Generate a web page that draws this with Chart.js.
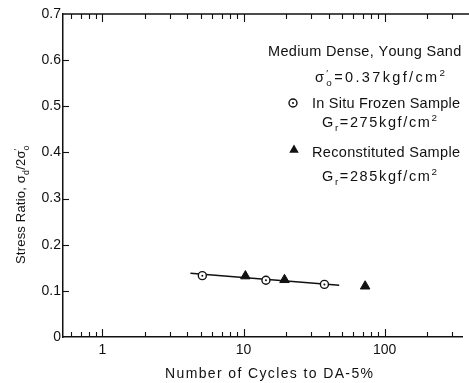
<!DOCTYPE html>
<html>
<head>
<meta charset="utf-8">
<script src="https://cdn.jsdelivr.net/npm/chart.js@4.4.0/dist/chart.umd.min.js"></script>
<style>
    html, body { margin: 0; padding: 0; background: #fff; }
    #wrap { width: 469px; height: 383px; }
</style>
</head>
<body>
<div id="wrap"><canvas id="chart" width="469" height="383"></canvas></div>
<script>
// --- Data ---
const frozenCycles = [5.1, 14.4, 37.4];
const frozenRatio = [0.133, 0.123, 0.114];
const reconCycles = [10.3, 19.5, 72.7];
const reconRatio = [0.132, 0.124, 0.110];
const fitCycles = [4.2, 47.6];
const fitRatio = [0.138, 0.112];

const yTickValues = [0, 0.1, 0.2, 0.3, 0.4, 0.5, 0.6, 0.7];
const xTickLabels = [1, 10, 100];
const xTickMarks = [0.6, 0.7, 0.8, 0.9, 1, 2, 3, 4, 5, 6, 7, 8, 9, 10,
    20, 30, 40, 50, 60, 70, 80, 90, 100, 200, 300];

const FONT = '"Liberation Sans", Arial, Helvetica, sans-serif';
const INK = '#111';

function drawSpaced(ctx, text, x, y, sp, dry) {
    let cx = x;
    for (const ch of text) {
        if (!dry) ctx.fillText(ch, cx, y);
        cx += ctx.measureText(ch).width + sp;
    }
    return cx - x - sp;
}

// fit text to a given width by spreading the letters
function fitText(ctx, text, x, y, width, size) {
    ctx.font = size + 'px ' + FONT;
    const w = ctx.measureText(text).width;
    const sp = (width - w) / ([...text].length - 1);
    drawSpaced(ctx, text, x, y, sp);
}

// parts: [text, kind] kind: '' | 'sub' | 'sup' | 'supKeep' (no advance)
function drawRuns(ctx, parts, x, y, size, sp, dry) {
    let cx = x;
    for (const [t, kind] of parts) {
        let fs = size, dy = 0;
        if (kind === 'sub') { fs = size * 0.68; dy = size * 0.28; }
        if (kind === 'sup' || kind === 'supKeep') { fs = size * 0.68; dy = -size * 0.42; }
        ctx.font = fs + 'px ' + FONT;
        const w = drawSpaced(ctx, t, cx, y + dy, sp, dry);
        if (kind !== 'supKeep') cx += w + sp;
    }
    return cx - x - sp;
}

function fitRuns(ctx, parts, x, y, size, width) {
    const n = parts.filter(p => p[1] !== 'supKeep').reduce((a, p) => a + [...p[0]].length, 0);
    const w = drawRuns(ctx, parts, x, y, size, 0, true);
    drawRuns(ctx, parts, x, y, size, (width - w) / (n - 1));
}

const framePlugin = {
    id: 'frame',
    afterDraw(chart) {
        const ctx = chart.ctx;
        const { left, right, top, bottom } = chart.chartArea;
        const xs = chart.scales.x, ys = chart.scales.y;
        ctx.save();
        ctx.strokeStyle = INK;
        ctx.fillStyle = INK;

        // top border
        ctx.lineWidth = 1.5;
        ctx.beginPath();
        ctx.moveTo(left, top);
        ctx.lineTo(chart.width, top);
        ctx.stroke();

        // tick marks, pointing inward
        ctx.lineWidth = 1.1;
        xTickMarks.forEach(v => {
            const px = Math.round(xs.getPixelForValue(v)) + 0.5;
            const len = xTickLabels.includes(v) ? 8 : 5;
            ctx.beginPath();
            ctx.moveTo(px, bottom); ctx.lineTo(px, bottom - len);
            ctx.moveTo(px, top); ctx.lineTo(px, top + len);
            ctx.stroke();
        });
        yTickValues.slice(1, -1).forEach(v => {
            const py = Math.round(ys.getPixelForValue(v)) + 0.5;
            ctx.beginPath();
            ctx.moveTo(left, py); ctx.lineTo(left + 6, py);
            ctx.stroke();
        });

        ctx.textBaseline = 'alphabetic';
        ctx.textAlign = 'left';

        // x axis title
        fitText(ctx, 'Number of Cycles to DA-5%', 165, 378, 208, 14);

        // y axis title
        ctx.save();
        ctx.translate(25, 264);
        ctx.rotate(-Math.PI / 2);
        drawRuns(ctx, [['Stress Ratio, ', ''], ['σ', ''], ['d', 'sub'], ['/2σ', ''],
            ['′', 'supKeep'], ['o', 'sub']], 0, 0, 13, 0.2);
        ctx.restore();

        // legend block
        fitText(ctx, 'Medium Dense, Young Sand', 268, 56, 192, 14.5);
        fitRuns(ctx, [['σ', ''], ['′', 'supKeep'], ['o', 'sub'], ['=0.37kgf/cm', ''], ['2', 'sup']],
            315, 82, 14.5, 130);

        ctx.lineWidth = 1.4;
        ctx.beginPath(); ctx.arc(293, 103, 4, 0, Math.PI * 2); ctx.stroke();
        ctx.beginPath(); ctx.arc(293, 103, 1, 0, Math.PI * 2); ctx.fill();
        fitText(ctx, 'In Situ Frozen Sample', 312, 108, 148, 14.5);
        fitRuns(ctx, [['G', ''], ['r', 'sub'], ['=275kgf/cm', ''], ['2', 'sup']], 322, 127, 14.5, 115);

        const tx = 294, ty = 150, r = 5.5;
        ctx.beginPath();
        ctx.moveTo(tx, ty - r);
        ctx.lineTo(tx + r * 0.866, ty + r / 2);
        ctx.lineTo(tx - r * 0.866, ty + r / 2);
        ctx.closePath();
        ctx.fill();
        fitText(ctx, 'Reconstituted Sample', 312, 157, 148, 14.5);
        fitRuns(ctx, [['G', ''], ['r', 'sub'], ['=285kgf/cm', ''], ['2', 'sup']], 322, 181, 14.5, 115);

        ctx.restore();
    }
};

const toPoints = (xs, ys) => xs.map((x, i) => ({ x: x, y: ys[i] }));

const chart = new Chart(document.getElementById('chart'), {
    type: 'scatter',
    data: {
        datasets: [
            {
                label: 'In Situ Frozen Sample (centre)',
                data: toPoints(frozenCycles, frozenRatio),
                pointStyle: 'circle',
                pointRadius: 1,
                backgroundColor: INK,
                borderWidth: 0,
                order: 0
            },
            {
                label: 'In Situ Frozen Sample',
                data: toPoints(frozenCycles, frozenRatio),
                pointStyle: 'circle',
                pointRadius: 4,
                backgroundColor: '#fff',
                borderColor: INK,
                borderWidth: 1.4,
                order: 1
            },
            {
                label: 'Reconstituted Sample',
                data: toPoints(reconCycles, reconRatio),
                pointStyle: 'triangle',
                pointRadius: 5.5,
                backgroundColor: INK,
                borderColor: INK,
                borderWidth: 1,
                order: 1
            },
            {
                label: 'trend',
                data: toPoints(fitCycles, fitRatio),
                showLine: true,
                pointRadius: 0,
                borderColor: INK,
                borderWidth: 1.6,
                order: 2
            }
        ]
    },
    options: {
        responsive: false,
        animation: false,
        devicePixelRatio: 1,
        layout: { padding: { top: 14, right: 1, left: 0, bottom: 0 } },
        plugins: {
            legend: { display: false },
            tooltip: { enabled: false }
        },
        scales: {
            x: {
                type: 'logarithmic',
                min: 0.525,
                max: 356,
                afterFit: s => { s.height = 46; },
                grid: { display: false, drawTicks: false },
                border: { display: true, color: INK, width: 1.5 },
                ticks: {
                    autoSkip: false,
                    maxRotation: 0,
                    padding: 5,
                    color: INK,
                    font: { family: FONT, size: 14 },
                    callback: v => xTickLabels.includes(v) ? String(v) : ''
                }
            },
            y: {
                min: 0,
                max: 0.7,
                afterFit: s => { s.width = 63; },
                grid: { display: false, drawTicks: false },
                border: { display: true, color: INK, width: 1.5 },
                ticks: {
                    stepSize: 0.1,
                    padding: 2,
                    color: INK,
                    font: { family: FONT, size: 14 },
                    callback: v => v === 0 ? '0' : v.toFixed(1)
                }
            }
        }
    },
    plugins: [framePlugin]
});
</script>
</body>
</html>
